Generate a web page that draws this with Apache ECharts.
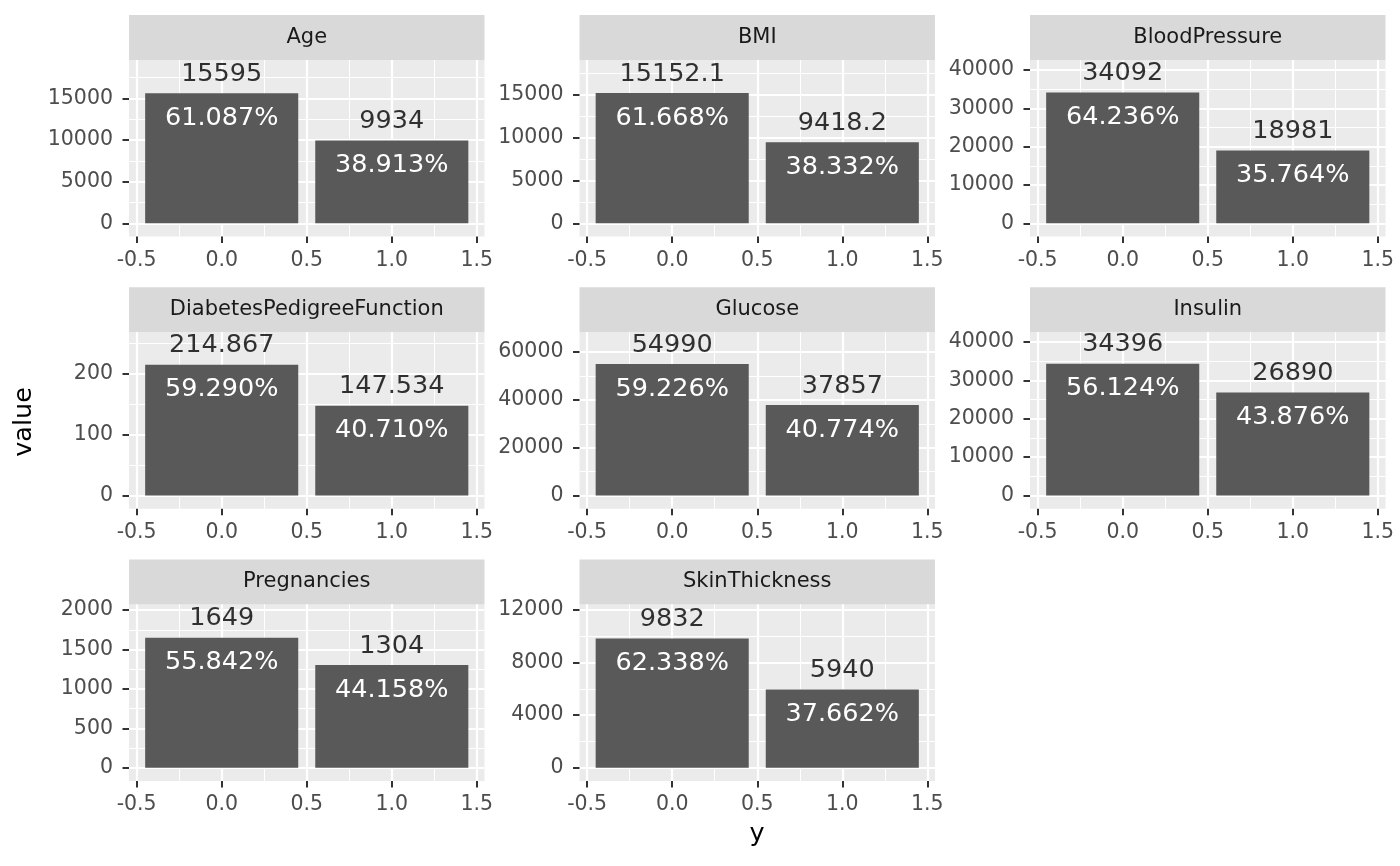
<!DOCTYPE html>
<html>
<head>
<meta charset="utf-8">
<script src="https://cdn.jsdelivr.net/npm/echarts@6/dist/echarts.min.js"></script>
<style>
html,body{margin:0;padding:0;background:#fff;}
#chart{width:1400px;height:866px;}
</style>
</head>
<body>
<div id="chart"></div>
<script>
// ---- data ----
const facets = ['Age','BMI','BloodPressure','DiabetesPedigreeFunction','Glucose','Insulin','Pregnancies','SkinThickness'];
const xCats = [0, 1];
const valuesY0 = [15595, 15152.1, 34092, 214.867, 54990, 34396, 1649, 9832];
const valuesY1 = [9934, 9418.2, 18981, 147.534, 37857, 26890, 1304, 5940];
const pctY0 = ['61.087%','61.668%','64.236%','59.290%','59.226%','56.124%','55.842%','62.338%'];
const pctY1 = ['38.913%','38.332%','35.764%','40.710%','40.774%','43.876%','44.158%','37.662%'];
const yTickStep = [5000, 5000, 10000, 100, 20000, 10000, 500, 4000];
const yAxisMax = [19600, 19000, 42600, 268.6, 68300, 42600, 2072, 12420];
const xTicks = [-0.5, 0, 0.5, 1, 1.5];
const xTickLabels = ['-0.5', '0.0', '0.5', '1.0', '1.5'];
const xMinorTicks = [-0.25, 0.25, 0.75, 1.25];
const xTitle = 'y';
const yTitle = 'value';

// ---- layout ----
const FONT = '"DejaVu Sans", "Liberation Sans", sans-serif';
const colLeft = [129, 579.5, 1030];
const rowTop = [60, 332.2, 604.4];
const panelW = 355.5, panelH = 176.5, stripH = 45;
const xMin = -0.545, xMax = 1.545;
const barW = 0.9 * panelW / (xMax - xMin);

const grids = [], xAxes = [], yAxes = [], series = [], graphics = [];

facets.forEach((name, i) => {
  const col = i % 3, row = Math.floor(i / 3);
  const left = colLeft[col], top = rowTop[row];
  grids.push({left: left, top: top, width: panelW, height: panelH, show: true,
    backgroundColor: '#EBEBEB', borderWidth: 0, containLabel: false});

  const yMax = yAxisMax[i], yMin = -0.0808 * yMax, step = yTickStep[i];
  const majors = [], minors = [];
  for (let v = 0; v <= yMax; v += step) majors.push(v);
  for (let v = step / 2; v <= yMax; v += step) minors.push(v);

  // major x axis
  xAxes.push({type: 'value', gridIndex: i, min: xMin, max: xMax, position: 'bottom',
    axisLine: {show: false, onZero: false},
    axisTick: {show: true, customValues: xTicks, length: 6.5, lineStyle: {color: '#333333', width: 2}},
    axisLabel: {show: true, customValues: xTicks, margin: 13.5, color: '#4D4D4D', fontSize: 20.5, fontFamily: FONT,
      formatter: v => xTickLabels[xTicks.findIndex(t => Math.abs(t - v) < 1e-9)] ?? ''},
    splitLine: {show: true, lineStyle: {color: '#FFFFFF', width: 2.2}}
  });
  // minor x axis
  xAxes.push({type: 'value', gridIndex: i, min: xMin, max: xMax, position: 'top',
    axisLine: {show: false, onZero: false},
    axisTick: {show: false, customValues: xMinorTicks},
    axisLabel: {show: false, customValues: xMinorTicks},
    splitLine: {show: true, lineStyle: {color: '#FFFFFF', width: 1.1}}
  });
  // major y axis
  yAxes.push({type: 'value', gridIndex: i, min: yMin, max: yMax, position: 'left',
    axisLine: {show: false, onZero: false},
    axisTick: {show: true, customValues: majors, length: 6.5, lineStyle: {color: '#333333', width: 2}},
    axisLabel: {show: true, customValues: majors, margin: 16, color: '#4D4D4D', fontSize: 20.5, fontFamily: FONT,
      formatter: v => String(Math.round(v))},
    splitLine: {show: true, lineStyle: {color: '#FFFFFF', width: 2.2}}
  });
  // minor y axis
  yAxes.push({type: 'value', gridIndex: i, min: yMin, max: yMax, position: 'right',
    axisLine: {show: false, onZero: false},
    axisTick: {show: false, customValues: minors},
    axisLabel: {show: false, customValues: minors},
    splitLine: {show: true, lineStyle: {color: '#FFFFFF', width: 1.1}}
  });

  const vals = [valuesY0[i], valuesY1[i]];
  const pcts = [pctY0[i], pctY1[i]];
  series.push({type: 'bar', xAxisIndex: 2 * i, yAxisIndex: 2 * i, barWidth: barW,
    data: xCats.map((x, k) => [x, vals[k]]),
    itemStyle: {color: '#595959'}, silent: true,
    label: {show: true, position: 'insideTop', distance: 12, color: '#FFFFFF', fontSize: 25.5, fontFamily: FONT,
      formatter: p => pcts[p.dataIndex]}
  });
  series.push({type: 'scatter', xAxisIndex: 2 * i, yAxisIndex: 2 * i, symbolSize: 0,
    data: xCats.map((x, k) => [x, vals[k]]),
    itemStyle: {color: 'rgba(0,0,0,0)'}, silent: true,
    label: {show: true, position: 'top', distance: 6, color: '#000000', fontSize: 25.5, fontFamily: FONT,
      formatter: p => String(vals[p.dataIndex])}
  });

  graphics.push({type: 'rect', shape: {x: left, y: top - stripH, width: panelW, height: stripH},
    style: {fill: '#D9D9D9'}, silent: true});
  graphics.push({type: 'text', x: left + panelW / 2, y: top - stripH / 2, silent: true,
    style: {text: name, fill: '#1A1A1A', fontSize: 21, fontFamily: FONT, align: 'center', verticalAlign: 'middle'}});
});

graphics.push({type: 'text', x: 24.5, y: 422, rotation: Math.PI / 2, silent: true,
  style: {text: yTitle, fill: '#000000', fontSize: 25.5, fontFamily: FONT, align: 'center', verticalAlign: 'middle'}});
graphics.push({type: 'text', x: 757, y: 834, silent: true,
  style: {text: xTitle, fill: '#000000', fontSize: 25.5, fontFamily: FONT, align: 'center', verticalAlign: 'middle'}});

const chart = echarts.init(document.getElementById('chart'), null, {renderer: 'canvas'});
chart.setOption({
  backgroundColor: '#FFFFFF',
  animation: false,
  grid: grids,
  xAxis: xAxes,
  yAxis: yAxes,
  series: series,
  graphic: graphics
});
</script>
</body>
</html>
